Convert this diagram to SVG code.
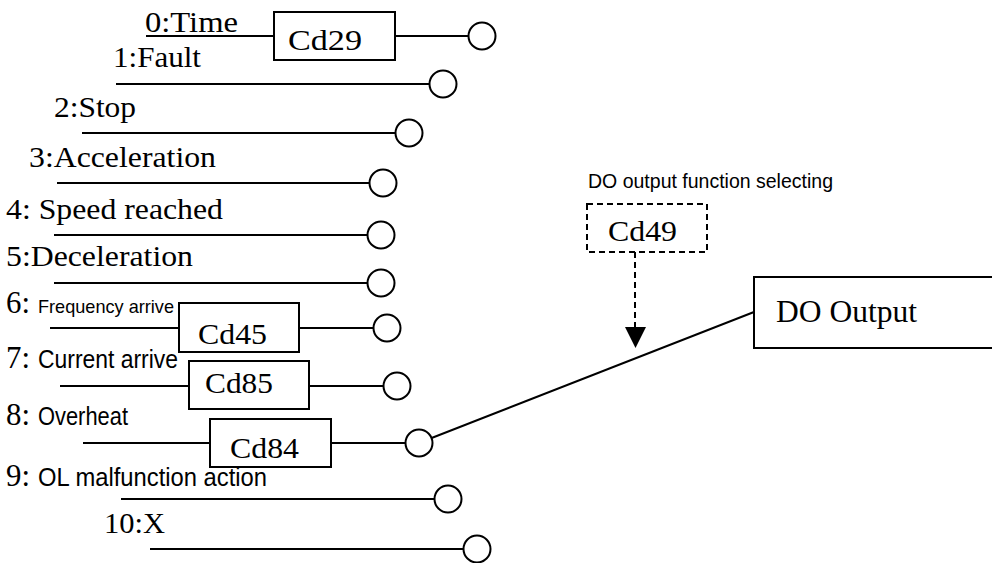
<svg xmlns="http://www.w3.org/2000/svg" width="992" height="563" viewBox="0 0 992 563">
<style>
.s{font-family:"Liberation Serif","Times New Roman",serif;fill:#000}
.a{font-family:"Liberation Sans",Arial,sans-serif;fill:#000}
.ln{stroke:#000;stroke-width:2;fill:none}
.bx{stroke:#000;stroke-width:2;fill:#fff}
.c{stroke:#000;stroke-width:2;fill:#fff}
.d{stroke:#000;stroke-width:2;fill:none;stroke-dasharray:6 4}
</style>
<rect width="992" height="563" fill="#fff"/>
<g id="connectors">
<line class="ln" x1="146" y1="36" x2="274" y2="36"/>
<line class="ln" x1="395" y1="36" x2="469" y2="36"/>
<line class="ln" x1="116" y1="84" x2="430" y2="84"/>
<line class="ln" x1="82" y1="133" x2="396" y2="133"/>
<line class="ln" x1="57" y1="183" x2="370" y2="183"/>
<line class="ln" x1="54" y1="235" x2="368" y2="235"/>
<line class="ln" x1="54" y1="283" x2="368" y2="283"/>
<line class="ln" x1="50" y1="328" x2="179" y2="328"/>
<line class="ln" x1="299" y1="328" x2="374" y2="328"/>
<line class="ln" x1="60" y1="386" x2="189" y2="386"/>
<line class="ln" x1="309" y1="386" x2="384" y2="386"/>
<line class="ln" x1="83" y1="443" x2="210" y2="443"/>
<line class="ln" x1="331" y1="443" x2="406" y2="443"/>
<line class="ln" x1="121" y1="499" x2="435" y2="499"/>
<line class="ln" x1="150" y1="549" x2="464" y2="549"/>
<line class="ln" x1="431.6" y1="438" x2="754" y2="312"/>
<line class="d" x1="635" y1="252" x2="635" y2="328"/>
<polygon points="625,327 646,327 635.5,348" fill="#000"/>
</g>
<g id="row0">
<text class="s" x="145" y="32" font-size="30" textLength="93" lengthAdjust="spacingAndGlyphs">0:Time</text>
<rect class="bx" x="274" y="12" width="121" height="48"/>
<text class="s" x="288" y="50" font-size="29" textLength="74" lengthAdjust="spacingAndGlyphs">Cd29</text>
<circle class="c" cx="482" cy="36" r="13.5"/>
</g>
<g id="row1">
<text class="s" x="113" y="67" font-size="30" textLength="88" lengthAdjust="spacingAndGlyphs">1:Fault</text>
<circle class="c" cx="443" cy="84" r="13.5"/>
</g>
<g id="row2">
<text class="s" x="54" y="117" font-size="30" textLength="82" lengthAdjust="spacingAndGlyphs">2:Stop</text>
<circle class="c" cx="409" cy="133" r="13.5"/>
</g>
<g id="row3">
<text class="s" x="29" y="167" font-size="30" textLength="187" lengthAdjust="spacingAndGlyphs">3:Acceleration</text>
<circle class="c" cx="383" cy="183" r="13.5"/>
</g>
<g id="row4">
<text class="s" x="6" y="219" font-size="30" textLength="217" lengthAdjust="spacingAndGlyphs">4: Speed reached</text>
<circle class="c" cx="381" cy="235" r="13.5"/>
</g>
<g id="row5">
<text class="s" x="6" y="266" font-size="30" textLength="187" lengthAdjust="spacingAndGlyphs">5:Deceleration</text>
<circle class="c" cx="381" cy="283" r="13.5"/>
</g>
<g id="row6">
<text class="s" x="6" y="313" font-size="32" textLength="24" lengthAdjust="spacingAndGlyphs">6:</text>
<text class="a" x="38" y="313" font-size="19" textLength="136" lengthAdjust="spacingAndGlyphs">Frequency arrive</text>
<rect class="bx" x="179" y="303" width="120" height="49"/>
<text class="s" x="198" y="344" font-size="29" textLength="69" lengthAdjust="spacingAndGlyphs">Cd45</text>
<circle class="c" cx="387" cy="328" r="13.5"/>
</g>
<g id="row7">
<text class="s" x="6" y="368" font-size="32" textLength="24" lengthAdjust="spacingAndGlyphs">7:</text>
<text class="a" x="38" y="368" font-size="26" textLength="140" lengthAdjust="spacingAndGlyphs">Current arrive</text>
<rect class="bx" x="189" y="361" width="120" height="48"/>
<text class="s" x="205" y="393" font-size="29" textLength="68" lengthAdjust="spacingAndGlyphs">Cd85</text>
<circle class="c" cx="397" cy="386" r="13.5"/>
</g>
<g id="row8">
<text class="s" x="6" y="425" font-size="32" textLength="24" lengthAdjust="spacingAndGlyphs">8:</text>
<text class="a" x="38" y="425" font-size="25" textLength="90" lengthAdjust="spacingAndGlyphs">Overheat</text>
<rect class="bx" x="210" y="419" width="121" height="48"/>
<text class="s" x="230" y="458" font-size="29" textLength="69" lengthAdjust="spacingAndGlyphs">Cd84</text>
<circle class="c" cx="419" cy="443" r="13.5"/>
</g>
<g id="row9">
<text class="s" x="6" y="486" font-size="32" textLength="24" lengthAdjust="spacingAndGlyphs">9:</text>
<text class="a" x="38" y="486" font-size="25" textLength="229" lengthAdjust="spacingAndGlyphs">OL malfunction action</text>
<circle class="c" cx="448" cy="499" r="13.5"/>
</g>
<g id="row10">
<text class="s" x="104" y="533" font-size="30" textLength="61" lengthAdjust="spacingAndGlyphs">10:X</text>
<circle class="c" cx="477" cy="549" r="13.5"/>
</g>
<g id="cd49">
<text class="a" x="588" y="188" font-size="21" textLength="245" lengthAdjust="spacingAndGlyphs">DO output function selecting</text>
<rect class="d" x="587" y="204" width="120" height="48"/>
<text class="s" x="608" y="241" font-size="29" textLength="69" lengthAdjust="spacingAndGlyphs">Cd49</text>
</g>
<g id="do-output">
<rect class="bx" x="754" y="277" width="250" height="71"/>
<text class="s" x="776" y="322" font-size="31" textLength="141" lengthAdjust="spacingAndGlyphs">DO Output</text>
</g>
</svg>
